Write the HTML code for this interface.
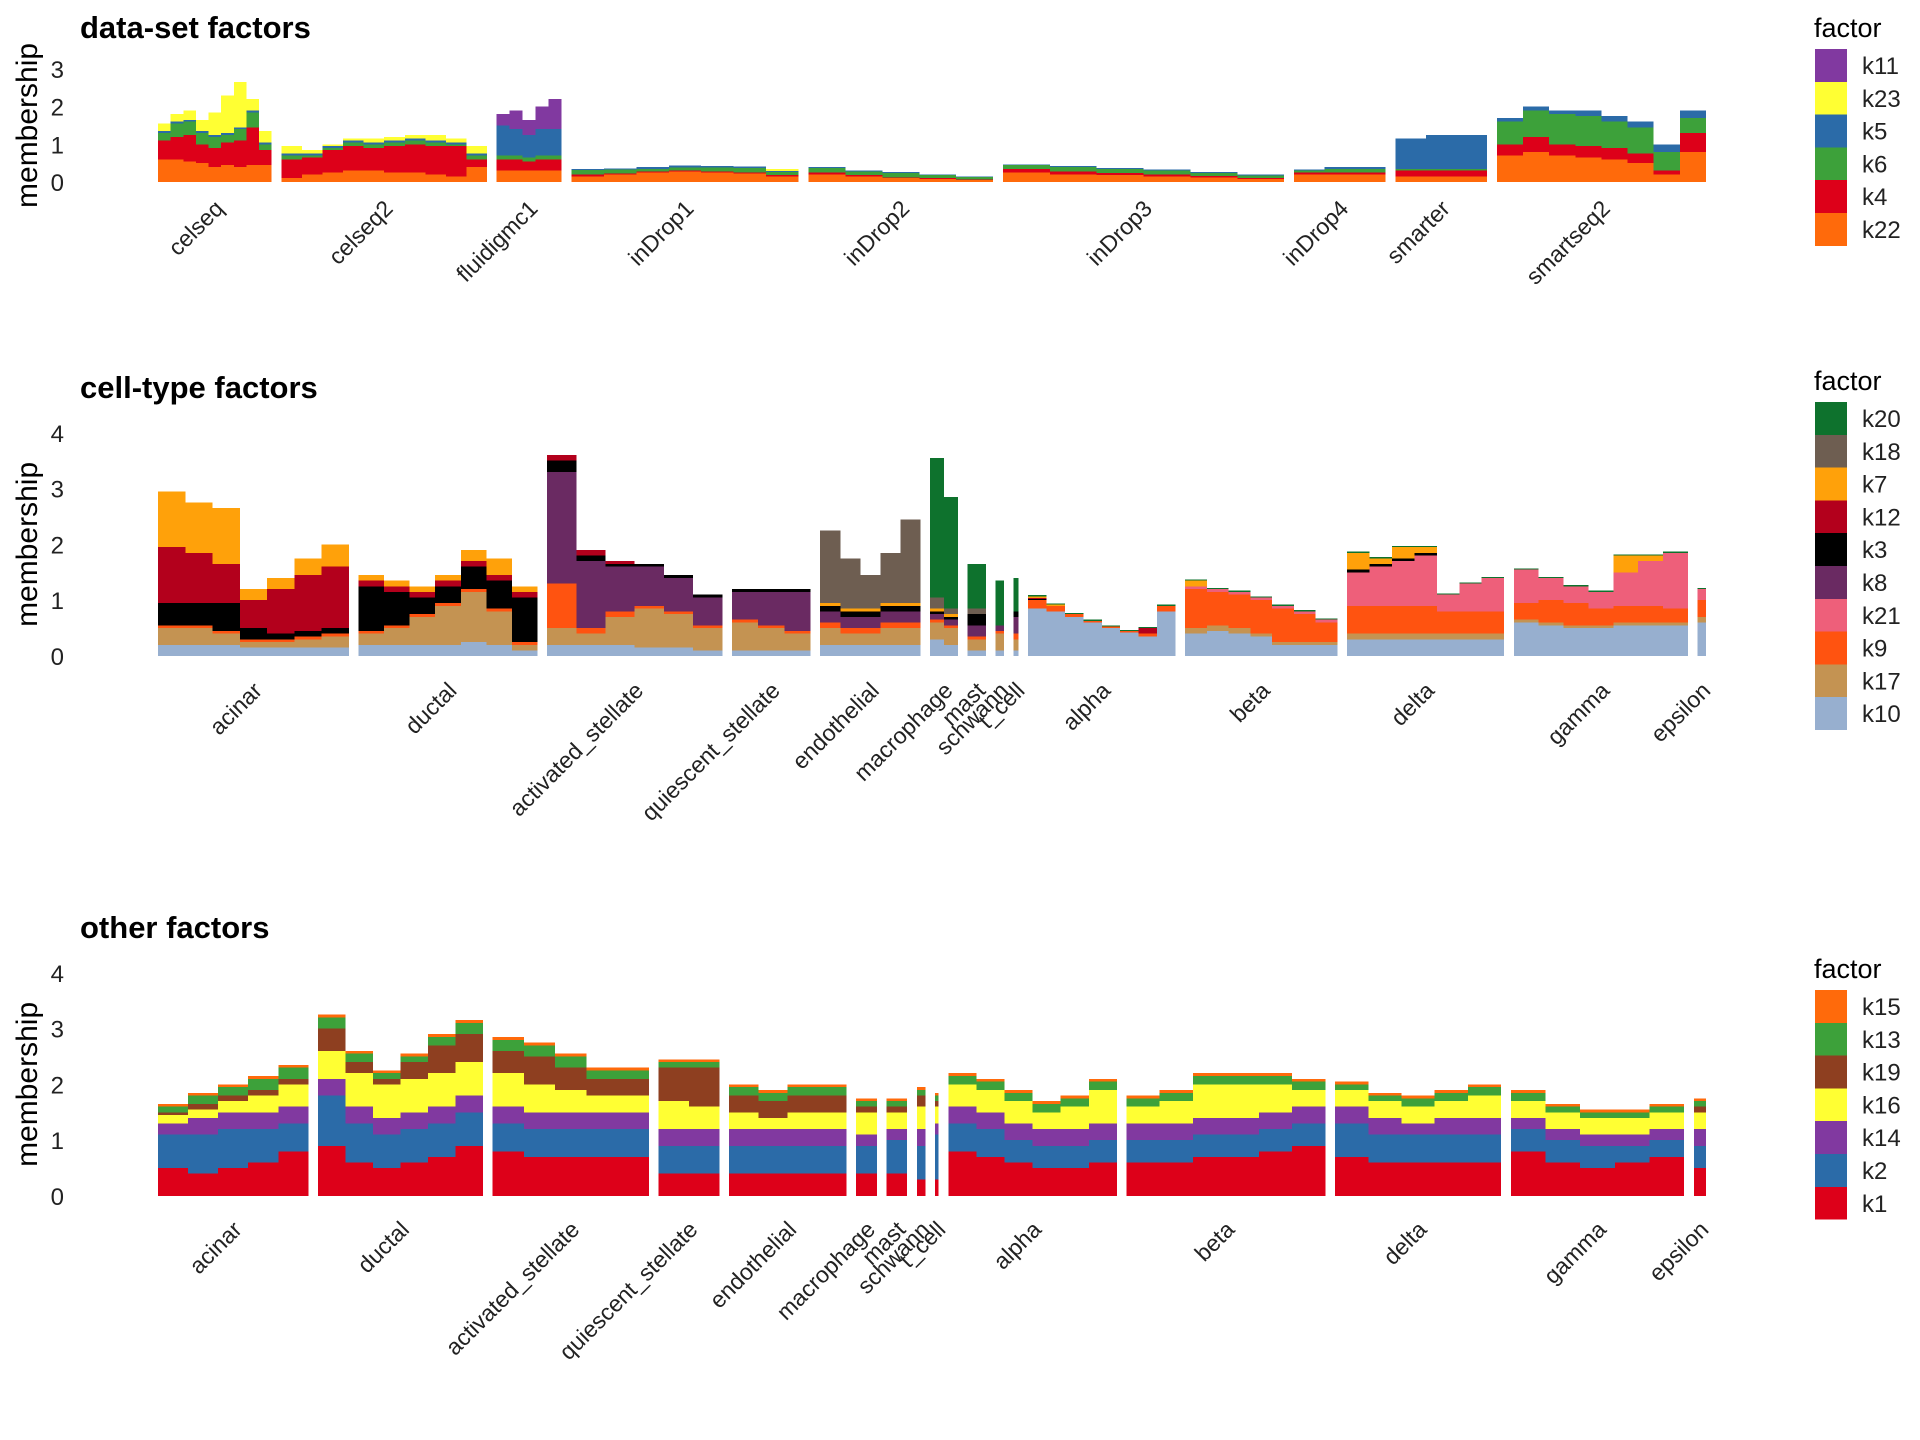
<!DOCTYPE html>
<html><head><meta charset="utf-8"><style>
html,body{margin:0;padding:0;background:#fff;}
svg{display:block;font-family:"Liberation Sans",Arial,sans-serif;}
</style></head><body>
<svg id="chart" width="1920" height="1440" viewBox="0 0 1920 1440" shape-rendering="crispEdges"></svg>
<script>
// ---------- Panel 1: data-set factors ----------
const factors1 = ["k22","k4","k6","k5","k23","k11"];
const colors1 = ["#FF6A0B","#DD0019","#3DA13A","#2B6BA8","#FFFF33","#8139A0"];
const groups1 = ["celseq","celseq2","fluidigmc1","inDrop1","inDrop2","inDrop3","inDrop4","smarter","smartseq2"];
const counts1 = [93,168,53,186,151,230,75,75,171];
const values1 = [
 [[0.6,0.5,0.2,0.05,0.2,0],[0.6,0.6,0.35,0.05,0.2,0],[0.55,0.7,0.35,0.05,0.25,0],[0.5,0.5,0.3,0.05,0.3,0],[0.4,0.5,0.3,0.05,0.6,0],[0.45,0.6,0.2,0.05,1.0,0],[0.4,0.7,0.3,0.05,1.2,0],[0.45,1.0,0.4,0.05,0.3,0],[0.45,0.4,0.15,0.05,0.3,0]],
 [[0.1,0.5,0.1,0.05,0.2,0],[0.2,0.45,0.05,0.05,0.1,0],[0.25,0.6,0.05,0.05,0.05,0],[0.3,0.65,0.1,0.05,0.05,0],[0.3,0.6,0.1,0.05,0.1,0],[0.25,0.7,0.1,0.05,0.1,0],[0.25,0.75,0.1,0.05,0.1,0],[0.2,0.75,0.1,0.05,0.15,0],[0.15,0.8,0.05,0.05,0.1,0],[0.4,0.2,0.1,0.05,0.2,0]],
 [[0.3,0.3,0.1,0.8,0,0.3],[0.3,0.3,0.1,0.7,0,0.5],[0.3,0.25,0.1,0.6,0,0.4],[0.3,0.3,0.1,0.7,0,0.6],[0.3,0.3,0.1,0.7,0,0.8]],
 [[0.15,0.05,0.12,0.03,0,0],[0.2,0.03,0.1,0.03,0,0],[0.25,0.03,0.07,0.05,0,0],[0.28,0.03,0.07,0.06,0,0],[0.25,0.03,0.1,0.05,0,0],[0.22,0.03,0.12,0.04,0,0],[0.15,0.03,0.08,0.03,0.05,0]],
 [[0.2,0.05,0.12,0.03,0,0],[0.15,0.03,0.1,0.03,0,0],[0.1,0.02,0.12,0.03,0,0],[0.08,0.02,0.08,0.02,0,0],[0.05,0.02,0.06,0.02,0,0]],
 [[0.25,0.1,0.1,0.02,0,0],[0.2,0.08,0.12,0.02,0,0],[0.18,0.06,0.1,0.03,0,0],[0.15,0.05,0.1,0.03,0,0],[0.12,0.04,0.08,0.03,0,0],[0.08,0.03,0.06,0.03,0,0]],
 [[0.2,0.05,0.05,0.03,0,0],[0.2,0.05,0.1,0.05,0,0],[0.2,0.05,0.1,0.05,0,0]],
 [[0.15,0.15,0.05,0.8,0,0],[0.15,0.15,0.05,0.9,0,0],[0.15,0.15,0.05,0.9,0,0]],
 [[0.7,0.3,0.6,0.1,0,0],[0.8,0.4,0.7,0.1,0,0],[0.7,0.3,0.8,0.1,0,0],[0.65,0.3,0.8,0.15,0,0],[0.6,0.3,0.7,0.15,0,0],[0.5,0.25,0.7,0.15,0,0],[0.2,0.1,0.5,0.2,0,0],[0.8,0.5,0.4,0.2,0,0]]
];
const ticks1 = [0,1,2,3];

// ---------- Panel 2: cell-type factors ----------
const factors2 = ["k10","k17","k9","k21","k8","k3","k12","k7","k18","k20"];
const colors2 = ["#97AFCF","#C49352","#FF5310","#EE5F7A","#6A2A62","#000000","#B3001C","#FFA10A","#6E5E51","#0E722D"];
const groups2 = ["acinar","ductal","activated_stellate","quiescent_stellate","endothelial","macrophage","mast","schwann","t_cell","alpha","beta","delta","gamma","epsilon"];
const counts2 = [158,148,145,65,83,23,15,7,4,122,126,130,144,7];
const values2 = [
 [[0.2,0.3,0.05,0,0,0.4,1.0,1.0,0,0],[0.2,0.3,0.05,0,0,0.4,0.9,0.9,0,0],[0.2,0.2,0.05,0,0,0.5,0.7,1.0,0,0],[0.15,0.1,0.05,0,0,0.2,0.5,0.2,0,0],[0.15,0.1,0.05,0,0,0.1,0.8,0.2,0,0],[0.15,0.15,0.05,0,0,0.1,1.0,0.3,0,0],[0.15,0.2,0.05,0,0,0.1,1.1,0.4,0,0]],
 [[0.2,0.2,0.05,0,0,0.8,0.1,0.1,0,0],[0.2,0.3,0.05,0,0,0.6,0.1,0.1,0,0],[0.2,0.5,0.05,0,0,0.3,0.1,0.1,0,0],[0.2,0.7,0.05,0,0,0.3,0.1,0.1,0,0],[0.25,0.9,0.05,0,0,0.4,0.1,0.2,0,0],[0.2,0.6,0.05,0,0,0.5,0.1,0.3,0,0],[0.1,0.1,0.05,0,0,0.8,0.1,0.1,0,0]],
 [[0.2,0.3,0.8,0,2.0,0.2,0.1,0,0,0],[0.2,0.2,0.1,0,1.2,0.1,0.1,0,0,0],[0.2,0.5,0.1,0,0.8,0.05,0.05,0,0,0],[0.15,0.7,0.05,0,0.7,0.05,0,0,0,0],[0.15,0.6,0.05,0,0.6,0.05,0,0,0,0],[0.1,0.4,0.05,0,0.5,0.05,0,0,0,0]],
 [[0.1,0.5,0.05,0,0.5,0.05,0,0,0,0],[0.1,0.4,0.05,0,0.6,0.05,0,0,0,0],[0.1,0.3,0.05,0,0.7,0.05,0,0,0,0]],
 [[0.2,0.3,0.1,0,0.2,0.1,0,0.05,1.3,0],[0.2,0.2,0.1,0,0.2,0.1,0,0.05,0.9,0],[0.2,0.2,0.1,0,0.2,0.1,0,0.05,0.6,0],[0.2,0.3,0.1,0,0.2,0.1,0,0.05,0.9,0],[0.2,0.3,0.1,0,0.2,0.1,0,0.05,1.5,0]],
 [[0.3,0.3,0.05,0,0.1,0.05,0,0.05,0.2,2.5],[0.2,0.3,0.05,0,0.1,0.05,0,0.05,0.1,2.0]],
 [[0.1,0.2,0.05,0,0.2,0.2,0,0,0.1,0.8]],
 [[0.1,0.3,0.05,0,0.1,0,0,0,0,0.8]],
 [[0.1,0.2,0.1,0,0.3,0.1,0,0,0,0.6]],
 [[0.85,0,0.15,0,0,0.02,0.02,0.03,0,0.02],[0.8,0,0.1,0,0,0,0,0.02,0,0.02],[0.7,0,0.05,0,0,0,0,0,0,0.02],[0.6,0,0.03,0,0,0,0,0,0,0.02],[0.5,0,0.03,0,0,0,0,0,0,0.02],[0.42,0,0.03,0,0,0,0,0,0,0.02],[0.35,0,0.05,0,0,0,0.1,0,0,0.02],[0.8,0,0.1,0,0,0,0,0,0,0.02]],
 [[0.4,0.1,0.7,0.05,0,0,0,0.1,0,0.02],[0.45,0.1,0.6,0.05,0,0,0,0,0,0.02],[0.4,0.1,0.6,0.05,0,0,0,0,0,0.02],[0.35,0.05,0.6,0.05,0,0,0,0,0,0.02],[0.2,0.05,0.6,0.05,0,0,0,0,0,0.02],[0.2,0.05,0.5,0.05,0,0,0,0,0,0.02],[0.2,0.05,0.35,0.05,0,0,0,0,0,0.02]],
 [[0.3,0.1,0.5,0.6,0,0.05,0,0.3,0,0.02],[0.3,0.1,0.5,0.7,0,0.05,0,0.1,0,0.02],[0.3,0.1,0.5,0.8,0,0.05,0,0.2,0,0.02],[0.3,0.1,0.5,0.9,0,0.05,0,0.1,0,0.02],[0.3,0.1,0.4,0.3,0,0,0,0,0,0.02],[0.3,0.1,0.4,0.5,0,0,0,0,0,0.02],[0.3,0.1,0.4,0.6,0,0,0,0,0,0.02]],
 [[0.6,0.05,0.3,0.6,0,0,0,0,0,0.02],[0.55,0.05,0.4,0.4,0,0,0,0,0,0.02],[0.5,0.05,0.4,0.3,0,0,0,0,0,0.02],[0.5,0.05,0.3,0.3,0,0,0,0,0,0.02],[0.55,0.05,0.3,0.6,0,0,0,0.3,0,0.02],[0.55,0.05,0.3,0.8,0,0,0,0.1,0,0.02],[0.55,0.05,0.25,1.0,0,0,0,0,0,0.02]],
 [[0.6,0.1,0.3,0.2,0,0,0,0,0,0.02]]
];
const ticks2 = [0,1,2,3,4];

// ---------- Panel 3: other factors ----------
const factors3 = ["k1","k2","k14","k16","k19","k13","k15"];
const colors3 = ["#DD0019","#2B6BA8","#8139A0","#FFFF33","#8E3F20","#3DA13A","#FF6A0B"];
const groups3 = ["acinar","ductal","activated_stellate","quiescent_stellate","endothelial","macrophage","mast","schwann","t_cell","alpha","beta","delta","gamma","epsilon"];
const counts3 = [124,136,129,50,97,17,17,7,3,139,164,137,143,10];
const values3 = [
 [[0.5,0.6,0.2,0.15,0.05,0.1,0.05],[0.4,0.7,0.3,0.15,0.1,0.15,0.05],[0.5,0.7,0.3,0.2,0.1,0.15,0.05],[0.6,0.6,0.3,0.3,0.1,0.2,0.05],[0.8,0.5,0.3,0.4,0.1,0.2,0.05]],
 [[0.9,0.9,0.3,0.5,0.4,0.2,0.05],[0.6,0.7,0.3,0.6,0.2,0.15,0.05],[0.5,0.6,0.3,0.6,0.1,0.1,0.05],[0.6,0.6,0.3,0.6,0.3,0.1,0.05],[0.7,0.6,0.3,0.6,0.5,0.15,0.05],[0.9,0.6,0.3,0.6,0.5,0.2,0.05]],
 [[0.8,0.5,0.3,0.6,0.4,0.2,0.05],[0.7,0.5,0.3,0.5,0.5,0.2,0.05],[0.7,0.5,0.3,0.4,0.4,0.2,0.05],[0.7,0.5,0.3,0.3,0.3,0.15,0.05],[0.7,0.5,0.3,0.3,0.3,0.15,0.05]],
 [[0.4,0.5,0.3,0.5,0.6,0.1,0.05],[0.4,0.5,0.3,0.4,0.7,0.1,0.05]],
 [[0.4,0.5,0.3,0.3,0.3,0.15,0.05],[0.4,0.5,0.3,0.2,0.3,0.15,0.05],[0.4,0.5,0.3,0.3,0.3,0.15,0.05],[0.4,0.5,0.3,0.3,0.3,0.15,0.05]],
 [[0.4,0.5,0.2,0.4,0.1,0.1,0.05]],
 [[0.4,0.6,0.2,0.3,0.1,0.1,0.05]],
 [[0.3,0.6,0.3,0.4,0.2,0.1,0.05]],
 [[0.3,0.8,0.2,0.3,0.1,0.1,0.05]],
 [[0.8,0.5,0.3,0.4,0,0.15,0.05],[0.7,0.5,0.3,0.4,0,0.15,0.05],[0.6,0.4,0.3,0.4,0,0.15,0.05],[0.5,0.4,0.3,0.3,0,0.15,0.05],[0.5,0.4,0.3,0.4,0,0.15,0.05],[0.6,0.4,0.3,0.6,0,0.15,0.05]],
 [[0.6,0.4,0.3,0.3,0,0.15,0.05],[0.6,0.4,0.3,0.4,0,0.15,0.05],[0.7,0.4,0.3,0.6,0,0.15,0.05],[0.7,0.4,0.3,0.6,0,0.15,0.05],[0.8,0.4,0.3,0.5,0,0.15,0.05],[0.9,0.4,0.3,0.3,0,0.15,0.05]],
 [[0.7,0.6,0.3,0.3,0,0.1,0.05],[0.6,0.5,0.3,0.3,0,0.1,0.05],[0.6,0.5,0.2,0.3,0,0.15,0.05],[0.6,0.5,0.3,0.3,0,0.15,0.05],[0.6,0.5,0.3,0.4,0,0.15,0.05]],
 [[0.8,0.4,0.2,0.3,0,0.15,0.05],[0.6,0.4,0.2,0.3,0,0.1,0.05],[0.5,0.4,0.2,0.3,0,0.1,0.05],[0.6,0.3,0.2,0.3,0,0.1,0.05],[0.7,0.3,0.2,0.3,0,0.1,0.05]],
 [[0.5,0.4,0.3,0.3,0.1,0.1,0.05]]
];
const ticks3 = [0,1,2,3,4];

const NS = "http://www.w3.org/2000/svg";
const svg = document.getElementById('chart');
function mk(tag, attrs, parent, text){
  const e = document.createElementNS(NS, tag);
  for (const k in attrs) e.setAttribute(k, attrs[k]);
  if (text !== undefined) e.textContent = text;
  (parent||svg).appendChild(e);
  return e;
}

function drawPanel(cfg){
  const g = mk('g', {});
  
  
  const x0 = 158, x1 = 1706, gap = 8;
  const total = cfg.counts.reduce((a,b)=>a+b,0) + gap*(cfg.counts.length-1);
  const xs = u => x0 + (u/total)*(x1-x0);
  const ys = v => cfg.y0 - v*cfg.unit;

  const t = mk('text', {x:80, y:cfg.titleY, 'font-size':31, 'font-weight':'bold', fill:'#000'}, g, cfg.title);
  
  

  const yl = mk('text', {x:0, y:0, 'font-size':30, fill:'#000', 'text-anchor':'middle',
     transform:`translate(37,${(ys(0)+ys(cfg.ymax))/2}) rotate(-90)`}, g, 'membership');
  
  

  cfg.ticks.forEach(tv=>{
    const tt = mk('text', {x:64, y:ys(tv)+9, 'font-size':24, fill:'#222', 'text-anchor':'end'}, g, String(tv));
    
    
  });

  let u = 0;
  cfg.groups.forEach((name, gi)=>{
    const gg = mk('g', {}, g);
    
    
    const bins = cfg.values[gi];
    const bw = cfg.counts[gi] / bins.length;
    bins.forEach((bin, bi)=>{
      const bx0 = xs(u + bi*bw), bx1 = xs(u + (bi+1)*bw);
      let acc = 0;
      bin.forEach((v, fi)=>{
        if (v <= 0) return;
        const r = mk('rect', {x:bx0, y:ys(acc+v), width:Math.max(bx1-bx0,0.5), height:ys(acc)-ys(acc+v), fill:cfg.colors[fi]}, gg);
        
        
        acc += v;
      });
    });
    const cx = xs(u + cfg.counts[gi]/2);
    const lab = mk('text', {x:0, y:0, 'font-size':23, fill:'#222', 'text-anchor':'end',
        transform:`translate(${cx+10},${cfg.labelY}) rotate(-45)`}, g, name);
    
    
    u += cfg.counts[gi] + gap;
  });

  const lg = mk('g', {}, g);
  
  
  const lt = mk('text', {x:1814, y:cfg.legY-12, 'font-size':27, fill:'#000'}, lg, 'factor');
  
  
  const n = cfg.factors.length;
  for (let i=0;i<n;i++){
    const fi = n-1-i;
    const sy = cfg.legY + i*32.8;
    const sw = mk('rect', {x:1815, y:sy, width:32, height:32.8, fill:cfg.colors[fi]}, lg);
    
    
    const st = mk('text', {x:1862, y:sy+25, 'font-size':24, fill:'#222'}, lg, cfg.factors[fi]);
    
    
  }
}

drawPanel({name:'data-set-factors-panel', title:'data-set factors', titleY:38, y0:182, unit:37.7, ymax:3, ticks:ticks1,
  groups:groups1, counts:counts1, values:values1, factors:factors1, colors:colors1, labelY:210, legY:49});
drawPanel({name:'cell-type-factors-panel', title:'cell-type factors', titleY:398, y0:656, unit:55.8, ymax:4, ticks:ticks2,
  groups:groups2, counts:counts2, values:values2, factors:factors2, colors:colors2, labelY:692, legY:402});
drawPanel({name:'other-factors-panel', title:'other factors', titleY:938, y0:1196, unit:55.8, ymax:4, ticks:ticks3,
  groups:groups3, counts:counts3, values:values3, factors:factors3, colors:colors3, labelY:1231, legY:990});
</script>
</body></html>
